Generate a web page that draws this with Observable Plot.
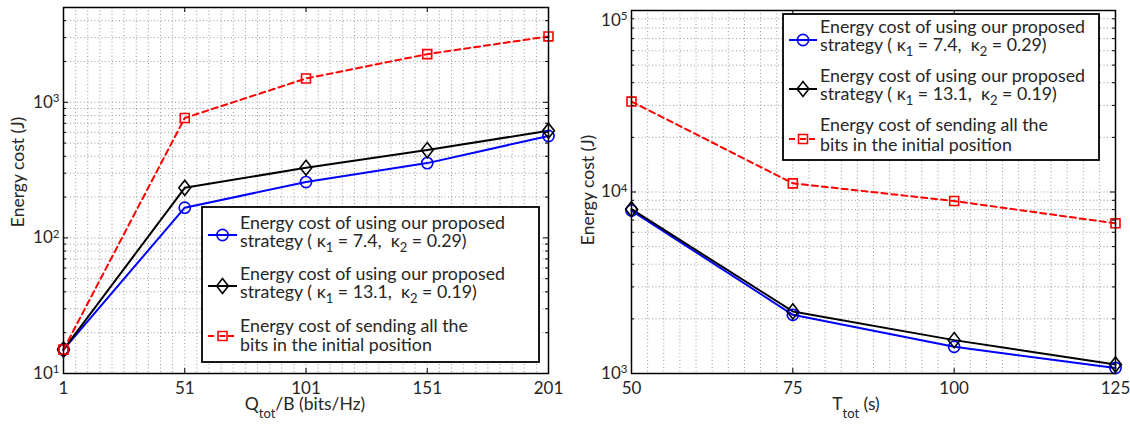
<!DOCTYPE html>
<html>
<head>
<meta charset="utf-8">
<script src="https://cdn.jsdelivr.net/npm/d3@7"></script>
<script src="https://cdn.jsdelivr.net/npm/@observablehq/plot@0.6"></script>
<style>
  body { margin: 0; background: #fff; }
  #wrap { position: relative; width: 1130px; height: 424px; overflow: hidden; }
  #wrap svg { position: absolute; top: 0; overflow: visible; }
</style>
</head>
<body>
<div id="wrap"></div>
<script>
// ---------- data ----------
const leftX = [1, 51, 101, 151, 201];
const leftBlue = [15, 167, 258, 356, 564];
const leftBlack = [15, 234, 329, 444, 617];
const leftRed = [15, 766, 1497, 2265, 3060];

const rightX = [50, 75, 100, 125];
const rightBlue = [7900, 2106, 1403, 1072];
const rightBlack = [8040, 2198, 1527, 1120];
const rightRed = [31500, 11160, 8920, 6720];

const leftYTicks = [10, 100, 1000];
const rightYTicks = [1000, 10000, 100000];

const seriesColors = ["#0000ff", "#000000", "#ff0000"];
const legendFirstLines = ["Energy cost of using our proposed", "Energy cost of using our proposed", "Energy cost of sending all the"];
const legendKappas = [["7.4", "0.29"], ["13.1", "0.19"]];
const legendThirdSecond = "bits in the initial position";
const yLabel = "Energy cost (J)";

// ---------- styling helpers ----------
const FONT = "Lato, 'Open Sans', sans-serif";
const TXT = "#262626";
const GRID = "#9a9a9a";

const symDiamond = {draw(ctx, size) {const r = Math.sqrt(size / Math.PI); ctx.moveTo(0, -r * 1.35); ctx.lineTo(r * 1.05, 0); ctx.lineTo(0, r * 1.35); ctx.lineTo(-r * 1.05, 0); ctx.closePath();}};
const symSquare = {draw(ctx, size) {const r = Math.sqrt(size / Math.PI) * 0.8; ctx.moveTo(-r, -r); ctx.lineTo(r, -r); ctx.lineTo(r, r); ctx.lineTo(-r, r); ctx.closePath();}};
const symbols = ["circle", symDiamond, symSquare];

function logMinor(lo, hi) {
  const out = [];
  for (let d = Math.floor(Math.log10(lo)); d <= Math.ceil(Math.log10(hi)); d++) {
    for (let k = 1; k <= 9; k++) {
      const v = k * Math.pow(10, d);
      if (v >= lo * 0.999 && v <= hi * 1.001) out.push(v);
    }
  }
  return out;
}

function panel(o) {
  const W = o.width, H = 424;
  const pw = W - o.ml - o.mr, ph = H - o.mt - o.mb;
  const rows = [];
  o.series.forEach((ys, s) => ys.forEach((y, i) => rows.push({x: o.xs[i], y, s})));
  const yGrid = logMinor(o.yDomain[0], o.yDomain[1]);
  const yMinor = yGrid.filter(v => !o.yTicks.includes(v));
  const xGrid = d3.range(o.xDomain[0], o.xDomain[1] + 1e-9, o.xMinorStep);
  const marks = [
    Plot.ruleX(xGrid, {stroke: GRID, strokeWidth: 1, strokeDasharray: "1,2.5"}),
    Plot.ruleY(yGrid, {stroke: GRID, strokeWidth: 1, strokeDasharray: "1,2.5"}),
  ];
  [0, 1, 2].forEach(s => {
    const d = rows.filter(r => r.s === s);
    marks.push(Plot.line(d, {x: "x", y: "y", stroke: seriesColors[s], strokeWidth: 2, strokeDasharray: s === 2 ? "6,4" : null}));
  });
  [0, 1, 2].forEach(s => {
    const d = rows.filter(r => r.s === s);
    marks.push(Plot.dot(d, {x: "x", y: "y", stroke: seriesColors[s], fill: "none", strokeWidth: 1.6, r: 5.6, symbol: symbols[s]}));
  });
  marks.push(
    Plot.frame({stroke: "#000", strokeWidth: 1.5}),
    Plot.ruleX(o.xTicks, {stroke: "#000", strokeWidth: 1, insetTop: ph - 5}),
    Plot.ruleX(o.xTicks, {stroke: "#000", strokeWidth: 1, insetBottom: ph - 5}),
    Plot.ruleY(o.yTicks, {stroke: "#000", strokeWidth: 1, insetRight: pw - 5}),
    Plot.ruleY(o.yTicks, {stroke: "#000", strokeWidth: 1, insetLeft: pw - 5}),
    Plot.ruleY(yMinor, {stroke: "#000", strokeWidth: 1, insetRight: pw - 3}),
    Plot.ruleY(yMinor, {stroke: "#000", strokeWidth: 1, insetLeft: pw - 3}),
    Plot.axisX(o.xTicks, {tickSize: 0, tickPadding: 8, label: null, fontSize: 17, tickFormat: d => String(d)}),
    Plot.axisY(o.yTicks, {tickSize: 0, tickPadding: 4, label: null, fontSize: 17, tickFormat: d => "10^" + Math.round(Math.log10(d))})
  );
  const svg = Plot.plot({
    width: W, height: H,
    marginLeft: o.ml, marginRight: o.mr, marginTop: o.mt, marginBottom: o.mb,
    style: {fontFamily: FONT, color: TXT, background: "transparent", overflow: "visible"},
    x: {domain: o.xDomain},
    y: {type: "log", domain: o.yDomain},
    marks
  });
  svg.style.left = o.left + "px";
  const sel = d3.select(svg);

  // superscript exponents on y tick labels
  sel.selectAll('g[aria-label="y-axis tick label"] text').each(function () {
    const t = this.textContent;
    if (!t.includes("^")) return;
    const [base, exp] = t.split("^");
    const el = d3.select(this);
    el.text(null);
    el.append("tspan").text(base);
    el.append("tspan").attr("dy", "-0.5em").attr("font-size", 11.5).text(exp);
    if (o.shiftTopLabel && +exp === Math.round(Math.log10(o.yDomain[1]))) el.attr("transform", function () { return (this.getAttribute("transform") || "") + " translate(0,10)"; });
  });

  // axis labels
  sel.append("text")
    .attr("transform", `translate(${o.yLabelX},${o.yLabelY}) rotate(-90)`)
    .attr("text-anchor", "middle").attr("font-size", 17.5).attr("fill", TXT)
    .text(yLabel);
  const xl = sel.append("text")
    .attr("x", o.xLabelX).attr("y", 410)
    .attr("text-anchor", "middle").attr("font-size", 17.5).attr("fill", TXT)
    .style("white-space", "pre");
  xl.append("tspan").text(o.xLabel[0]);
  xl.append("tspan").attr("dy", 8).attr("font-size", 13).text(o.xLabel[1]);
  xl.append("tspan").attr("dy", -8).text(o.xLabel[2]);

  // legend
  const L = o.legend;
  const g = sel.append("g").attr("transform", `translate(${L.x},${L.y})`).attr("text-anchor", "start");
  g.append("rect").attr("width", L.w).attr("height", L.h).attr("fill", "#fff").attr("stroke", "#000").attr("stroke-width", 1.8);
  for (let s = 0; s < 3; s++) {
    const sy = L.swatchY[s];
    g.append("line").attr("x1", L.sx0).attr("x2", L.sx1).attr("y1", sy).attr("y2", sy)
      .attr("stroke", seriesColors[s]).attr("stroke-width", 2)
      .attr("stroke-dasharray", s === 2 ? "6,4" : null);
    const mx = (L.sx0 + L.sx1) / 2;
    const path = d3.path();
    const size = Math.PI * 5.6 * 5.6;
    if (s === 0) path.arc(0, 0, 5.6, 0, 2 * Math.PI); else symbols[s].draw(path, size);
    g.append("path").attr("d", path.toString()).attr("transform", `translate(${mx},${sy})`)
      .attr("fill", s === 2 ? "#fff" : "none").attr("stroke", seriesColors[s]).attr("stroke-width", 1.6);
    if (s === 2) g.append("line").attr("x1", mx - 3).attr("x2", mx + 3).attr("y1", sy).attr("y2", sy).attr("stroke", seriesColors[s]).attr("stroke-width", 2);
    const t1 = g.append("text").attr("x", L.tx).attr("y", L.base[s * 2]).attr("font-size", 17.8).attr("fill", TXT).attr("text-anchor", "start").style("white-space", "pre");
    t1.text(legendFirstLines[s]);
    const t2 = g.append("text").attr("x", L.tx).attr("y", L.base[s * 2 + 1]).attr("font-size", 17.8).attr("fill", TXT).attr("text-anchor", "start").style("white-space", "pre");
    if (s < 2) {
      t2.append("tspan").text("strategy ( κ");
      t2.append("tspan").attr("dy", 5).attr("font-size", 13).text("1");
      t2.append("tspan").attr("dy", -5).text(" = " + legendKappas[s][0] + ",  κ");
      t2.append("tspan").attr("dy", 5).attr("font-size", 13).text("2");
      t2.append("tspan").attr("dy", -5).text(" = " + legendKappas[s][1] + ")");
    } else {
      t2.text(legendThirdSecond);
    }
  }
  return svg;
}

const wrap = document.getElementById("wrap");
wrap.appendChild(panel({
  left: 0, width: 560, ml: 63, mr: 12, mt: 7, mb: 51,
  xs: leftX, series: [leftBlue, leftBlack, leftRed],
  xDomain: [1, 201], xTicks: leftX, xMinorStep: 5,
  yDomain: [10, 5000], yTicks: leftYTicks,
  yLabelX: 24, yLabelY: 172,
  xLabelX: 305, xLabel: ["Q", "tot", "/B (bits/Hz)"],
  legend: {x: 202, y: 207, w: 337, h: 155, sx0: 6, sx1: 35, tx: 38,
           swatchY: [28, 79, 129], base: [22, 40, 73, 91, 125, 144]}
}));
wrap.appendChild(panel({
  left: 560, width: 570, ml: 71, mr: 15, mt: 10, mb: 51,
  xs: rightX, series: [rightBlue, rightBlack, rightRed],
  xDomain: [50, 125], xTicks: rightX, xMinorStep: 2.5,
  yDomain: [1000, 100000], yTicks: rightYTicks, shiftTopLabel: true,
  yLabelX: 34, yLabelY: 190,
  xLabelX: 296, xLabel: ["T", "tot", " (s)"],
  legend: {x: 223, y: 14, w: 316, h: 146, sx0: 6, sx1: 34, tx: 37,
           swatchY: [26, 75, 125], base: [19, 37.4, 68, 86.4, 117.4, 137.4]}
}));
</script>
</body>
</html>
